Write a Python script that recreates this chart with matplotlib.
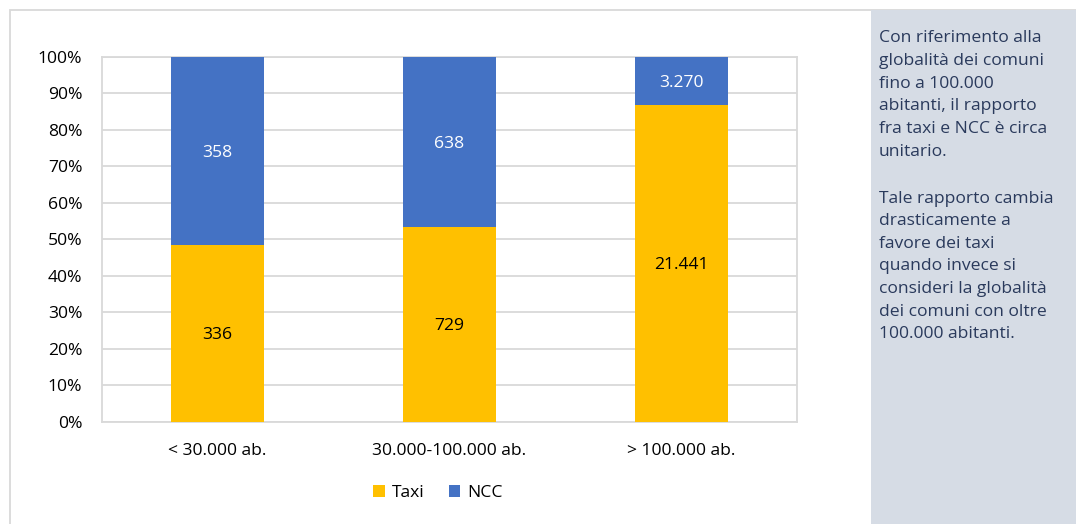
import numpy as np
import matplotlib.pyplot as plt
from matplotlib.patches import Rectangle

plt.rcParams['font.family'] = ['Open Sans', 'DejaVu Sans']

categories = ['< 30.000 ab.', '30.000-100.000 ab.', '> 100.000 ab.']
taxi = [336, 729, 21441]
ncc = [358, 638, 3270]
taxi_labels = ['336', '729', '21.441']
ncc_labels = ['358', '638', '3.270']
note_par1 = ['Con riferimento alla', 'globalità dei comuni', 'fino a 100.000',
             'abitanti, il rapporto', 'fra taxi e NCC è circa', 'unitario.']
note_par2 = ['Tale rapporto cambia', 'drasticamente a', 'favore dei taxi',
             'quando invece si', 'consideri la globalità',
             'dei comuni con oltre', '100.000 abitanti.']

W, H = 1076, 524
fs = 12.6
fig = plt.figure(figsize=(W / 100, H / 100), dpi=100)

# chart frame and side panel
fig.patches.append(Rectangle((10 / W, -0.1), 1.2, 1 - 10 / H + 0.1, transform=fig.transFigure,
                             fill=False, edgecolor='#d9d9d9', lw=1.3))
fig.patches.append(Rectangle((871 / W, -0.1), 1, 1 - 10 / H + 0.1, transform=fig.transFigure,
                             facecolor='#d6dce5', edgecolor='none'))

ax = fig.add_axes([101.7 / W, 1 - 421.7 / H, (797.3 - 101.7) / W, (421.7 - 56.7) / H])

taxi = np.array(taxi, dtype=float)
ncc = np.array(ncc, dtype=float)
tot = taxi + ncc
tp = taxi / tot
npct = ncc / tot
x = np.arange(len(categories))
bw = 0.4

ax.bar(x, tp, bw, color='#ffc000', label='Taxi', zorder=3)
ax.bar(x, npct, bw, bottom=tp, color='#4472c4', label='NCC', zorder=3)

for i in range(len(x)):
    ax.text(x[i], tp[i] / 2, taxi_labels[i], ha='center', va='center_baseline',
            fontsize=fs, color='black', zorder=4)
    ax.text(x[i], tp[i] + npct[i] / 2, ncc_labels[i], ha='center', va='center_baseline',
            fontsize=fs, color='white', zorder=4)

ax.set_xlim(-0.5, 2.5)
ax.set_ylim(0, 1)
ax.set_yticks(np.arange(0, 1.01, 0.1))
ax.set_yticklabels(['%d%%' % round(v * 100) for v in np.arange(0, 1.01, 0.1)])
ax.set_xticks(x)
ax.set_xticklabels(categories)
ax.tick_params(length=0, labelsize=fs, colors='#000000')
ax.tick_params(axis='y', pad=14)
ax.tick_params(axis='x', pad=15)
ax.yaxis.grid(True, color='#d9d9d9', lw=1.3, zorder=0)
for s in ax.spines.values():
    s.set_color('#d9d9d9')
    s.set_linewidth(1.3)

ax.legend(loc='center', bbox_to_anchor=(438 / W, 1 - 493 / H), bbox_transform=fig.transFigure,
          ncol=2, frameon=False, fontsize=fs, handlelength=0.65, handleheight=0.65,
          handletextpad=0.4, columnspacing=1.4)

# note text in the panel
txt_col = '#2a3a5c'
y0 = 38
for i, line in enumerate(note_par1):
    fig.text(879 / W, 1 - (y0 + i * 22.8) / H, line, ha='left', va='center',
             fontsize=fs, color=txt_col)
y1 = 199
for i, line in enumerate(note_par2):
    fig.text(879 / W, 1 - (y1 + i * 22.5) / H, line, ha='left', va='center',
             fontsize=fs, color=txt_col)

fig.savefig('out.png', dpi=100)
